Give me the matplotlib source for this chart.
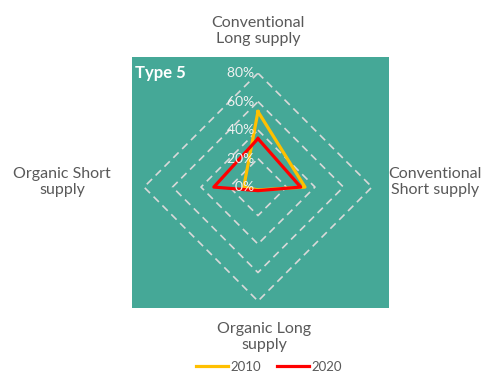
import numpy as np
import matplotlib
matplotlib.use("Agg")
import matplotlib.pyplot as plt
from matplotlib.patches import Rectangle
from matplotlib.lines import Line2D

plt.rcParams['font.family'] = ['Lato', 'DejaVu Sans']

categories = ["Conventional\nLong supply", "Conventional\nShort supply",
              "Organic Long\nsupply", "Organic Short\nsupply"]
vals_2010 = [53, 33, 2, 10]
vals_2020 = [34, 30, 2.5, 31]
rings = [20, 40, 60, 80]
ring_labels = ["0%", "20%", "40%", "60%", "80%"]

teal = "#45A897"
grey = "#595959"

fig = plt.figure(figsize=(4.85, 3.74), dpi=100)

# teal chart area
fig.patches.append(Rectangle((132 / 485, 1 - 308 / 374), 257 / 485, 251 / 374,
                             transform=fig.transFigure, facecolor=teal,
                             edgecolor="none", zorder=-5))

ax = fig.add_axes([0.2969, 0.195, 0.470, 0.6096], projection="polar")
ax.set_zorder(2)
ax.set_facecolor("none")
ax.set_theta_zero_location("N")
ax.set_theta_direction(-1)
ax.set_ylim(0, 80)
ax.grid(False)
ax.spines["polar"].set_visible(False)
ax.set_xticks([])
ax.set_yticks([])

theta = np.linspace(0, 2 * np.pi, len(categories), endpoint=False)
theta_c = np.append(theta, theta[0])

for r in rings:
    ax.plot(theta_c, [r] * len(theta_c), color="#D9D9D9", lw=1.2,
            ls=(0, (4.5, 3)), zorder=1)

ax.plot(theta_c, vals_2010 + vals_2010[:1], color="#FFC000", lw=2.3, zorder=3)
ax.plot(theta_c, vals_2020 + vals_2020[:1], color="#FF0000", lw=2.3, zorder=4)

for i, lab in enumerate(ring_labels):
    ax.text(0, i * 20, lab + " ", ha="right", va="center", color="#F2F2F2",
            fontsize=10, zorder=5)

# category labels outside
fig.text(258 / 485, 1 - 31 / 374, categories[0], ha="center", va="center",
         color=grey, fontsize=11.5, linespacing=1.25)
fig.text(435 / 485, 1 - 182 / 374, categories[1], ha="center", va="center",
         color=grey, fontsize=11.5, linespacing=1.25)
fig.text(264 / 485, 1 - 337 / 374, categories[2], ha="center", va="center",
         color=grey, fontsize=11.5, linespacing=1.25)
fig.text(62 / 485, 1 - 182 / 374, categories[3], ha="center", va="center",
         color=grey, fontsize=11.5, linespacing=1.25)

fig.text(135 / 485, 1 - 73 / 374, "Type 5", ha="left", va="center",
         color="white", fontsize=12, fontweight="bold")

handles = [Line2D([], [], color="#FFC000", lw=2.3),
           Line2D([], [], color="#FF0000", lw=2.3)]
fig.legend(handles, ["2010", "2020"], loc="center", ncol=2,
           bbox_to_anchor=(269 / 485, 1 - 367 / 374), frameon=False,
           fontsize=9.5, handlelength=2.4, handletextpad=0.2,
           columnspacing=1.2, labelcolor=grey)

fig.savefig("out.png", dpi=100)
